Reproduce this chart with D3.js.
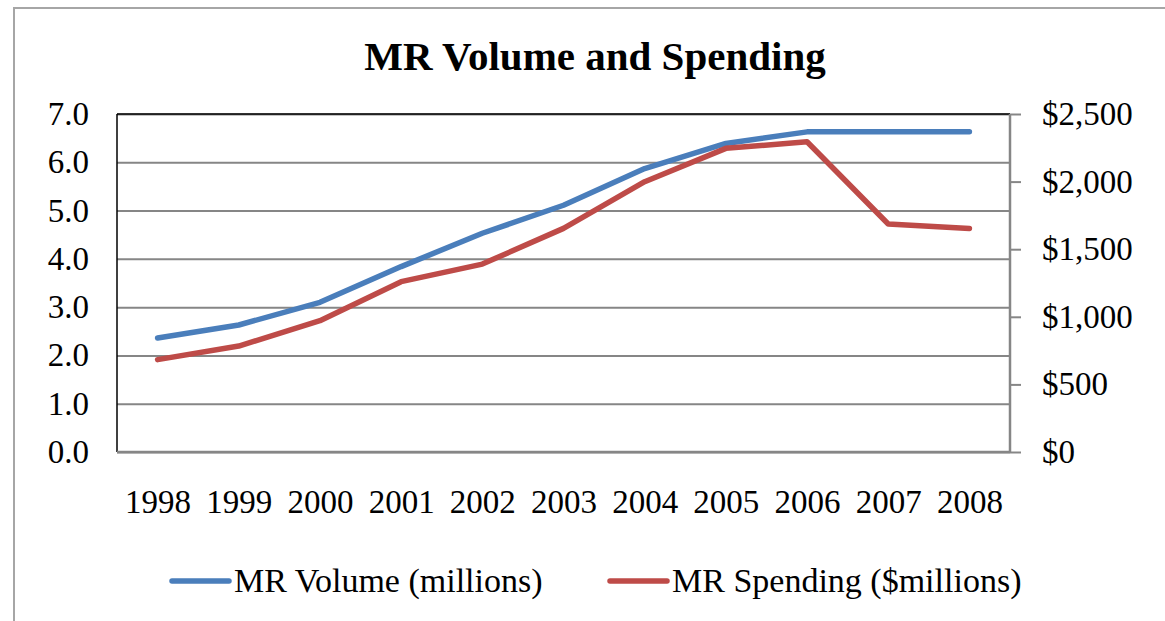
<!DOCTYPE html>
<html>
<head>
<meta charset="utf-8">
<script src="https://cdn.jsdelivr.net/npm/d3@7"></script>
<style>
  body { margin: 0; background: #fff; }
  svg { display: block; font-family: "Liberation Serif", "Times New Roman", serif; }
  .tick text { font-family: "Liberation Serif", "Times New Roman", serif; font-size: 33px; fill: #000; }
  .domain { display: none; }
</style>
</head>
<body>
<svg></svg>
<script>
const width = 1165;
const height = 621;

const years = ["1998", "1999", "2000", "2001", "2002", "2003", "2004", "2005", "2006", "2007", "2008"];
const volume = [2.36, 2.63, 3.10, 3.84, 4.53, 5.11, 5.87, 6.39, 6.63, 6.63, 6.63];
const spending = [683, 784, 971, 1260, 1390, 1654, 1999, 2246, 2295, 1686, 1654];
const leftTicks = [0, 1, 2, 3, 4, 5, 6, 7];
const rightTicks = [0, 500, 1000, 1500, 2000, 2500];

const plot = { left: 117, right: 1010, top: 114, bottom: 452 };
const blue = "#4a7ebb";
const red = "#be4b48";

const svg = d3.select("svg").attr("width", width).attr("height", height);

// outer chart border (runs off the right and bottom of the picture)
svg.append("rect")
  .attr("x", 14).attr("y", 8)
  .attr("width", width).attr("height", height)
  .attr("fill", "none").attr("stroke", "#a6a6a6").attr("stroke-width", 2);

svg.append("text")
  .attr("x", 595).attr("y", 70)
  .attr("text-anchor", "middle")
  .attr("font-size", 41).attr("font-weight", "bold")
  .text("MR Volume and Spending");

const x = d3.scalePoint().domain(years).range([plot.left, plot.right]).padding(0.5);
const yLeft = d3.scaleLinear().domain([0, 7]).range([plot.bottom, plot.top]);
const yRight = d3.scaleLinear().domain([0, 2500]).range([plot.bottom, plot.top]);

// gridlines
svg.append("g")
  .attr("transform", `translate(${plot.left},0)`)
  .call(d3.axisLeft(yLeft).tickValues(leftTicks).tickSize(-(plot.right - plot.left)).tickFormat(""))
  .call(g => g.selectAll(".tick line").attr("stroke", "#868686").attr("stroke-width", 2));

// plot frame: top and left dark, bottom and right gray
svg.append("line").attr("x1", plot.left).attr("x2", plot.right).attr("y1", plot.top).attr("y2", plot.top)
  .attr("stroke", "#000").attr("stroke-width", 1.5);
svg.append("line").attr("x1", plot.left).attr("x2", plot.left).attr("y1", plot.top).attr("y2", plot.bottom)
  .attr("stroke", "#000").attr("stroke-width", 1.5);
svg.append("line").attr("x1", plot.left).attr("x2", plot.right).attr("y1", plot.bottom).attr("y2", plot.bottom)
  .attr("stroke", "#868686").attr("stroke-width", 2.5);

// left axis labels
svg.append("g")
  .attr("transform", `translate(${plot.left - 28},0)`)
  .call(d3.axisLeft(yLeft).tickValues(leftTicks).tickSize(0).tickPadding(0).tickFormat(d3.format(".1f")));

// right axis
svg.append("g")
  .attr("transform", `translate(${plot.right},0)`)
  .call(d3.axisRight(yRight).tickValues(rightTicks).tickSize(11).tickPadding(21)
    .tickFormat(d => "$" + d3.format(",")(d)))
  .call(g => g.selectAll(".tick line").attr("stroke", "#868686").attr("stroke-width", 2));
svg.append("line").attr("x1", plot.right).attr("x2", plot.right).attr("y1", plot.top).attr("y2", plot.bottom)
  .attr("stroke", "#868686").attr("stroke-width", 2.5);

// x axis labels
svg.append("g")
  .attr("transform", `translate(0,${plot.bottom})`)
  .call(d3.axisBottom(x).tickSize(0).tickPadding(38));

const lineLeft = d3.line().x((d, i) => x(years[i])).y(d => yLeft(d));
const lineRight = d3.line().x((d, i) => x(years[i])).y(d => yRight(d));

svg.append("path").datum(volume).attr("d", lineLeft)
  .attr("fill", "none").attr("stroke", blue).attr("stroke-width", 5.5)
  .attr("stroke-linecap", "round").attr("stroke-linejoin", "round");
svg.append("path").datum(spending).attr("d", lineRight)
  .attr("fill", "none").attr("stroke", red).attr("stroke-width", 5.5)
  .attr("stroke-linecap", "round").attr("stroke-linejoin", "round");

// legend
const legendItems = [
  { label: "MR Volume (millions)", color: blue, x: 172 },
  { label: "MR Spending ($millions)", color: red, x: 610 }
];
const legend = svg.append("g");
legendItems.forEach(d => {
  legend.append("line")
    .attr("x1", d.x).attr("x2", d.x + 57).attr("y1", 581).attr("y2", 581)
    .attr("stroke", d.color).attr("stroke-width", 5.5).attr("stroke-linecap", "round");
  legend.append("text")
    .attr("x", d.x + 62).attr("y", 592)
    .attr("font-size", 34)
    .text(d.label);
});
</script>
</body>
</html>
